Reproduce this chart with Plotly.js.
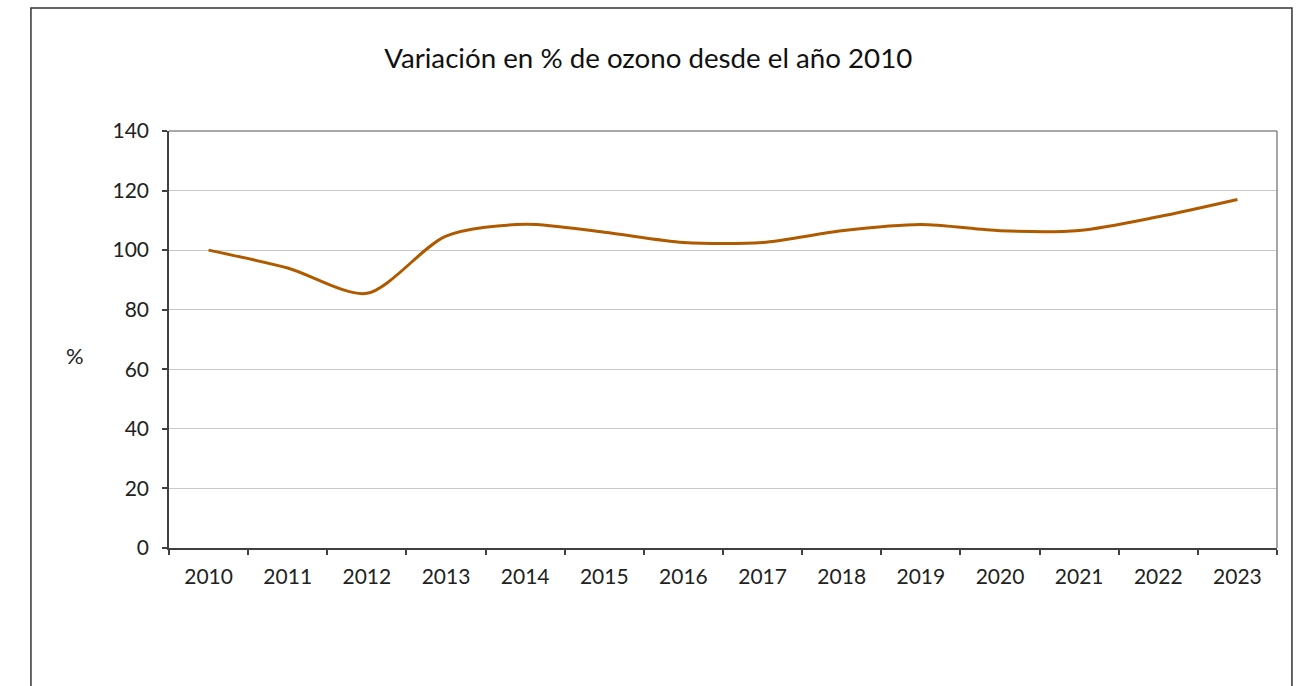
<!DOCTYPE html>
<html>
<head>
<meta charset="utf-8">
<script src="https://cdn.plot.ly/plotly-3.0.1.min.js"></script>
<style>html,body{margin:0;padding:0;background:#fff;}#chart{width:1303px;height:686px;}</style>
</head>
<body>
<div id="chart"></div>
<script>
const years = ['2010','2011','2012','2013','2014','2015','2016','2017','2018','2019','2020','2021','2022','2023'];
const ozoneVariation = [100, 94, 85.5, 104.7, 108.7, 106, 102.6, 102.6, 106.5, 108.6, 106.5, 106.6, 111.2, 117];
const yTicks = [0, 20, 40, 60, 80, 100, 120, 140];
const chartTitle = 'Variación en % de ozono desde el año 2010';
const yTitle = '%';

const font = 'Lato, "Open Sans", sans-serif';

const trace = {
  x: years,
  y: ozoneVariation,
  type: 'scatter',
  mode: 'lines',
  line: {color: '#B05A00', width: 3, shape: 'spline', smoothing: 0.8},
  hoverinfo: 'x+y'
};

const layout = {
  width: 1303, height: 686,
  margin: {l: 169, r: 26, t: 131, b: 138},
  paper_bgcolor: '#ffffff', plot_bgcolor: '#ffffff',
  showlegend: false,
  font: {family: font, color: '#222', size: 20},
  title: {text: chartTitle, font: {family: font, size: 27.7, color: '#111'}, x: 0.4975, xanchor: 'center', y: 0.915, yanchor: 'middle'},
  xaxis: {
    type: 'category',
    tickson: 'boundaries',
    ticks: 'outside', ticklen: 5, tickwidth: 1.5, tickcolor: '#404040',
    showline: true, linecolor: '#404040', linewidth: 1.5,
    showgrid: false, zeroline: false,
    tickfont: {family: font, size: 21, color: '#222'},
    ticklabelstandoff: 9,
    range: [-0.5, 13.5]
  },
  yaxis: {
    range: [0, 140],
    tickvals: yTicks,
    ticks: 'outside', ticklen: 5, tickwidth: 1.5, tickcolor: '#404040',
    showline: true, linecolor: '#404040', linewidth: 1.5,
    showgrid: true, gridcolor: '#c8c8c8', gridwidth: 1,
    zeroline: false,
    tickfont: {family: font, size: 21, color: '#222'},
    ticklabelstandoff: 9
  },
  shapes: [
    {type: 'line', xref: 'paper', yref: 'paper', x0: 0, x1: 1, y0: 1, y1: 1, line: {color: '#8a8a8a', width: 1.5}},
    {type: 'line', xref: 'paper', yref: 'paper', x0: 1, x1: 1, y0: 0, y1: 1, line: {color: '#8a8a8a', width: 1.5}},
    {type: 'rect', xref: 'paper', yref: 'paper', x0: -0.1246, x1: 1.0135, y0: -0.40, y1: 1.295, line: {color: '#333333', width: 1.5}, fillcolor: 'rgba(0,0,0,0)', layer: 'above'}
  ],
  annotations: [
    {text: yTitle, xref: 'paper', yref: 'paper', x: -0.0847, y: 0.4628, showarrow: false, xanchor: 'center', yanchor: 'middle', font: {family: font, size: 22, color: '#222'}}
  ]
};

Plotly.newPlot('chart', [trace], layout, {displayModeBar: false, responsive: false});
</script>
</body>
</html>
